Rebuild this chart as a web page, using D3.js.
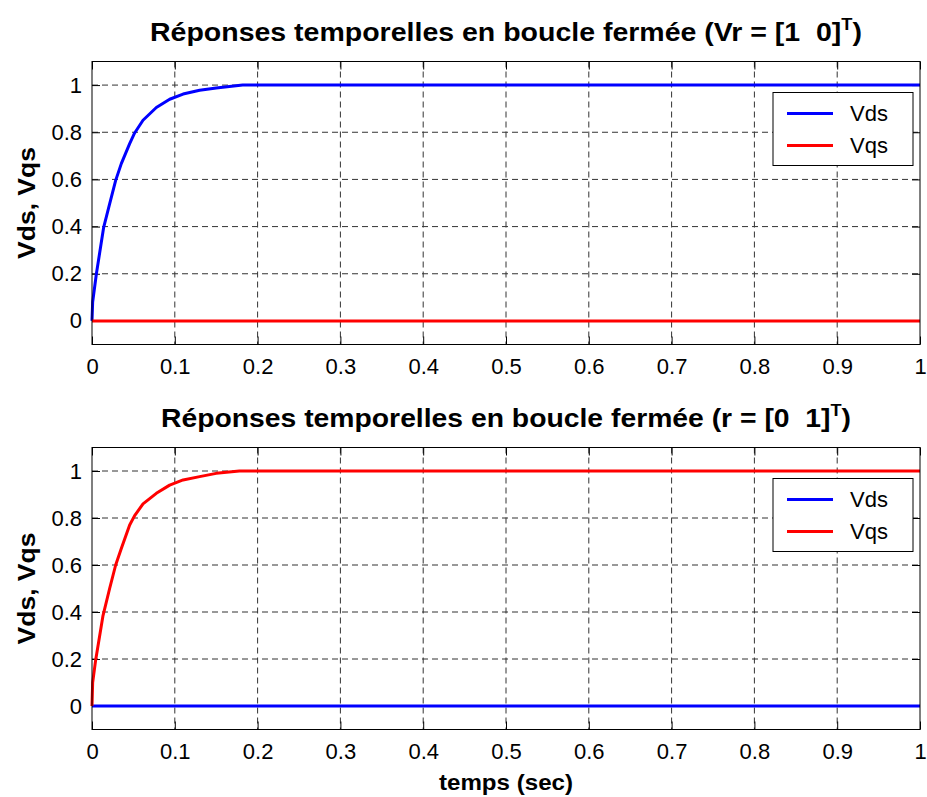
<!DOCTYPE html>
<html>
<head>
<meta charset="utf-8">
<script src="https://cdn.jsdelivr.net/npm/d3@7"></script>
<style>
  body { margin: 0; background: #fff; }
  svg { display: block; font-family: "Liberation Sans", Arial, sans-serif; }
</style>
</head>
<body>
<svg id="chart" width="927" height="797"></svg>
<script>
"use strict";

// time ticks and y ticks
const xTicks = [0, 0.1, 0.2, 0.3, 0.4, 0.5, 0.6, 0.7, 0.8, 0.9, 1];
const yTicks = [0, 0.2, 0.4, 0.6, 0.8, 1];

// step response (Vds rising, Vqs stays 0)
const topTime = [0, 0.0008, 0.0053, 0.0141, 0.0213, 0.0286, 0.0354, 0.0455, 0.0515, 0.0616, 0.0777, 0.0938, 0.110, 0.130, 0.150, 0.182, 1];
const topVds  = [0, 0.08, 0.20, 0.397, 0.496, 0.596, 0.667, 0.752, 0.797, 0.851, 0.905, 0.940, 0.962, 0.978, 0.988, 1.0, 1.0];
const topVqs  = [0, 0, 0, 0, 0, 0, 0, 0, 0, 0, 0, 0, 0, 0, 0, 0, 0];

// bottom plot (Vqs rising, Vds stays 0)
const botTime = [0, 0.0008, 0.0044, 0.0133, 0.0213, 0.0286, 0.0354, 0.0455, 0.0515, 0.0616, 0.0777, 0.0938, 0.110, 0.130, 0.150, 0.178, 1];
const botVqs  = [0, 0.10, 0.195, 0.385, 0.50, 0.60, 0.67, 0.77, 0.81, 0.86, 0.905, 0.94, 0.962, 0.976, 0.990, 1.0, 1.0];
const botVds  = [0, 0, 0, 0, 0, 0, 0, 0, 0, 0, 0, 0, 0, 0, 0, 0, 0];

const seriesNames = ["Vds", "Vqs"];
const seriesColors = ["#0000ff", "#ff0000"];

const svg = d3.select("#chart");

function drawPanel(opt) {
  const x = d3.scaleLinear().domain([0, 1]).range([92, 920]);
  const y = d3.scaleLinear().domain([-0.1, 1.1]).range([opt.bottom, opt.top]);
  const g = svg.append("g");

  // grid
  g.append("g").selectAll("line").data(xTicks.slice(1, -1)).join("line")
    .attr("x1", d => x(d)).attr("x2", d => x(d))
    .attr("y1", opt.top).attr("y2", opt.bottom)
    .attr("stroke", "#333").attr("stroke-dasharray", "6,4");
  g.append("g").selectAll("line").data(yTicks).join("line")
    .attr("x1", 92).attr("x2", 920)
    .attr("y1", d => y(d)).attr("y2", d => y(d))
    .attr("stroke", "#333").attr("stroke-dasharray", "6,4");

  // inner ticks on all sides
  const xAx = d3.axisBottom(x).tickValues(xTicks).tickSize(-8).tickFormat(d3.format("~g"));
  const ax = g.append("g").attr("transform", "translate(0," + opt.bottom + ")").call(xAx);
  ax.select(".domain").remove();
  ax.selectAll("text").attr("font-size", 22).attr("dy", "1.2em")
    .attr("font-family", "Liberation Sans, Arial, sans-serif").attr("fill", "#000");
  ax.selectAll("line").attr("stroke", "#000");

  const xTop = g.append("g").attr("transform", "translate(0," + opt.top + ")")
    .call(d3.axisTop(x).tickValues(xTicks).tickSize(-8).tickFormat(""));
  xTop.select(".domain").remove();

  const yAx = d3.axisLeft(y).tickValues(yTicks).tickSize(-8).tickPadding(10).tickFormat(d3.format("~g"));
  const ay = g.append("g").attr("transform", "translate(92,0)").call(yAx);
  ay.select(".domain").remove();
  ay.selectAll("text").attr("font-size", 22).attr("fill", "#000")
    .attr("font-family", "Liberation Sans, Arial, sans-serif");

  const yRight = g.append("g").attr("transform", "translate(920,0)")
    .call(d3.axisRight(y).tickValues(yTicks).tickSize(-8).tickFormat(""));
  yRight.select(".domain").remove();

  // lines
  const line = d3.line().x(d => x(d[0])).y(d => y(d[1]));
  opt.series.forEach((s, i) => {
    g.append("path")
      .datum(d3.zip(opt.time, s))
      .attr("fill", "none")
      .attr("stroke", seriesColors[i])
      .attr("stroke-width", 3)
      .attr("stroke-linejoin", "round")
      .attr("d", line);
  });

  // box
  g.append("rect").attr("x", 92).attr("y", opt.top)
    .attr("width", 828).attr("height", opt.bottom - opt.top)
    .attr("fill", "none").attr("stroke", "#000");

  // title
  const t = g.append("text")
    .attr("x", 506).attr("y", opt.top - 21)
    .attr("text-anchor", "middle")
    .attr("font-size", 25).attr("font-weight", "bold")
    .attr("textLength", opt.titleLen).attr("lengthAdjust", "spacingAndGlyphs");
  t.append("tspan").text(opt.title);
  t.append("tspan").attr("dy", -11).attr("font-size", 16).text("T");
  t.append("tspan").attr("dy", 11).text(")");

  // y label
  g.append("text")
    .attr("transform", "translate(35," + ((opt.top + opt.bottom) / 2) + ") rotate(-90)")
    .attr("text-anchor", "middle")
    .attr("font-size", 24).attr("font-weight", "bold")
    .attr("textLength", 112).attr("lengthAdjust", "spacingAndGlyphs")
    .text("Vds, Vqs");

  // legend
  const lg = g.append("g").attr("transform", "translate(773," + (opt.top + 31) + ")");
  lg.append("rect").attr("width", 140).attr("height", 73)
    .attr("fill", "#fff").attr("stroke", "#000");
  seriesNames.forEach((n, i) => {
    lg.append("line").attr("x1", 14).attr("x2", 60)
      .attr("y1", 21 + i * 32).attr("y2", 21 + i * 32)
      .attr("stroke", seriesColors[i]).attr("stroke-width", 3);
    lg.append("text").attr("x", 77).attr("y", 21 + i * 32).attr("dy", "0.36em")
      .attr("font-size", 22).text(n);
  });
}

drawPanel({
  top: 61.5, bottom: 344.5,
  time: topTime, series: [topVds, topVqs],
  title: "Réponses temporelles en boucle fermée (Vr = [1\u00a0\u00a00]",
  titleLen: 712
});

drawPanel({
  top: 447.5, bottom: 729.5,
  time: botTime, series: [botVds, botVqs],
  title: "Réponses temporelles en boucle fermée (r = [0\u00a0\u00a01]",
  titleLen: 690
});

svg.append("text")
  .attr("x", 506).attr("y", 790)
  .attr("text-anchor", "middle")
  .attr("font-size", 22).attr("font-weight", "bold")
  .attr("textLength", 134).attr("lengthAdjust", "spacingAndGlyphs")
  .text("temps (sec)");
</script>
</body>
</html>
